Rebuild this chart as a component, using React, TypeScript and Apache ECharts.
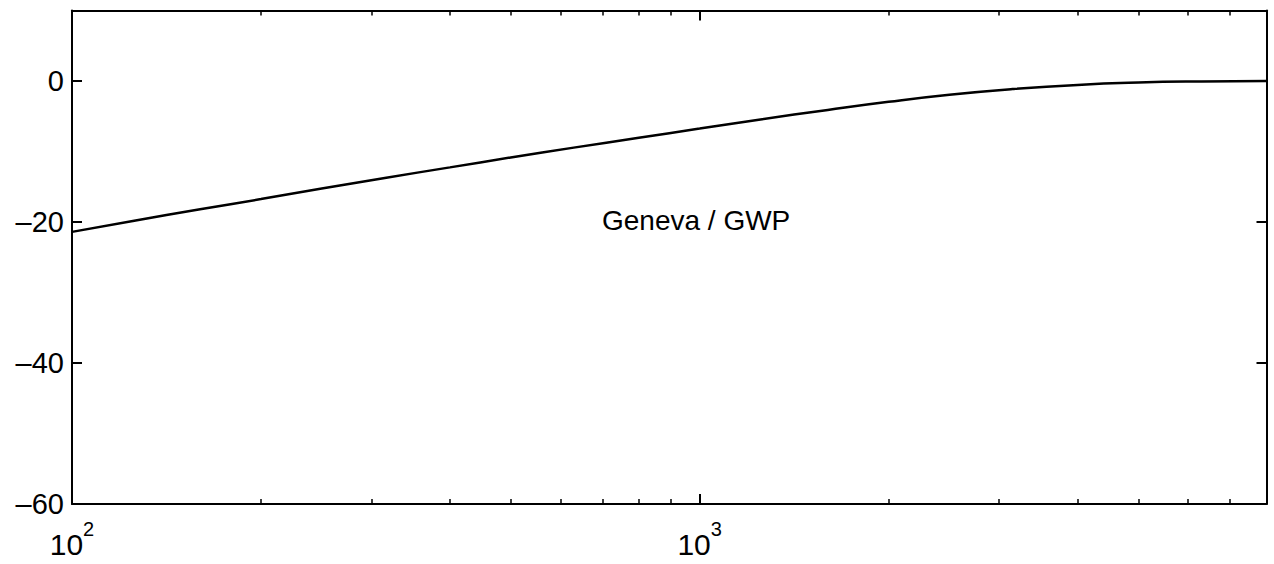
import React, { useEffect, useRef } from "react";
import * as echarts from "echarts";

const FREQS = [100, 125, 160, 200, 250, 315, 400, 500, 630, 800, 1000, 1250, 1600, 2000, 2500, 3150, 4000, 5000, 6300, 8000];
const GAIN_DB = [-21.4, -19.85, -18.2, -16.75, -15.25, -13.75, -12.25, -10.85, -9.45, -8.05, -6.75, -5.45, -4.1, -2.95, -1.95, -1.15, -0.55, -0.22, -0.06, 0];

const X_MAJOR = [100, 1000];
const X_MINOR = [200, 300, 400, 500, 600, 700, 800, 900, 2000, 3000, 4000, 5000, 6000, 7000];
const Y_LABELS = [-60, -40, -20, 0];
const Y_TICKS = [-40, -20, 0];
const ANNOTATION = "Geneva / GWP";

const FONT = "Liberation Sans, Arial, Helvetica, sans-serif";
const BLACK = "#000";

export default function App() {
  const ref = useRef<HTMLDivElement>(null);
  useEffect(() => {
    if (!ref.current) return;
    const chart = echarts.init(ref.current, undefined, { renderer: "svg" });
    const axisLine = { show: true, onZero: false, lineStyle: { color: BLACK, width: 2 } };
    const noLine = { show: false, onZero: false };
    const baseX = {
      type: "log",
      logBase: 10,
      min: 100,
      max: 8000,
      gridIndex: 0,
      splitLine: { show: false },
      minorTick: { show: false },
      minorSplitLine: { show: false },
    };
    const xLabel = {
      show: true,
      customValues: X_MAJOR,
      margin: 15,
      formatter: (v: number) => `{b|10}{s|${Math.round(Math.log10(v))}}`,
      rich: {
        b: { fontSize: 30, fontFamily: FONT, color: BLACK, lineHeight: 50, verticalAlign: "middle" },
        s: { fontSize: 20, fontFamily: FONT, color: BLACK, lineHeight: 20, verticalAlign: "top" },
      },
    };
    const option = {
      animation: false,
      backgroundColor: "#fff",
      grid: { left: 72, right: 7.5, top: 10.5, bottom: 60, containLabel: false },
      xAxis: [
        {
          ...baseX,
          position: "bottom",
          axisLine,
          axisTick: { show: true, inside: true, length: 10, customValues: X_MAJOR, lineStyle: { color: BLACK, width: 2 } },
          axisLabel: xLabel,
        },
        {
          ...baseX,
          position: "bottom",
          axisLine: noLine,
          axisTick: { show: true, inside: true, length: 5, customValues: X_MINOR, lineStyle: { color: BLACK, width: 1.5 } },
          axisLabel: { show: false },
        },
        {
          ...baseX,
          position: "top",
          axisLine,
          axisTick: { show: true, inside: true, length: 10, customValues: X_MAJOR, lineStyle: { color: BLACK, width: 2 } },
          axisLabel: { show: false },
        },
        {
          ...baseX,
          position: "top",
          axisLine: noLine,
          axisTick: { show: true, inside: true, length: 5, customValues: X_MINOR, lineStyle: { color: BLACK, width: 1.5 } },
          axisLabel: { show: false },
        },
      ],
      yAxis: [
        {
          type: "value",
          min: -60,
          max: 10,
          interval: 20,
          position: "left",
          splitLine: { show: false },
          axisLine,
          axisTick: { show: true, inside: true, length: 10, customValues: Y_TICKS, lineStyle: { color: BLACK, width: 2 } },
          axisLabel: {
            show: true,
            customValues: Y_LABELS,
            margin: 8,
            fontSize: 29,
            fontFamily: FONT,
            color: BLACK,
            formatter: (v: number) => (v < 0 ? "\u2013" + Math.abs(v) : String(v)),
          },
        },
        {
          type: "value",
          min: -60,
          max: 10,
          interval: 20,
          position: "right",
          splitLine: { show: false },
          axisLine,
          axisTick: { show: true, inside: true, length: 10, customValues: Y_TICKS, lineStyle: { color: BLACK, width: 2 } },
          axisLabel: { show: false },
        },
      ],
      graphic: [
        {
          type: "text",
          left: 602,
          top: 206,
          style: { text: ANNOTATION, fontSize: 28, fontFamily: FONT, fill: BLACK },
        },
      ],
      series: [
        {
          type: "line",
          xAxisIndex: 0,
          yAxisIndex: 0,
          data: FREQS.map((f, i) => [f, GAIN_DB[i]]),
          showSymbol: false,
          smooth: 0.5,
          lineStyle: { color: BLACK, width: 2.5 },
          silent: true,
        },
      ],
    };
    chart.setOption(option as any);
    return () => chart.dispose();
  }, []);
  return (
    <div
      ref={ref}
      style={{ position: "fixed", left: 0, top: 0, width: 1274, height: 564, background: "#fff" }}
    />
  );
}
